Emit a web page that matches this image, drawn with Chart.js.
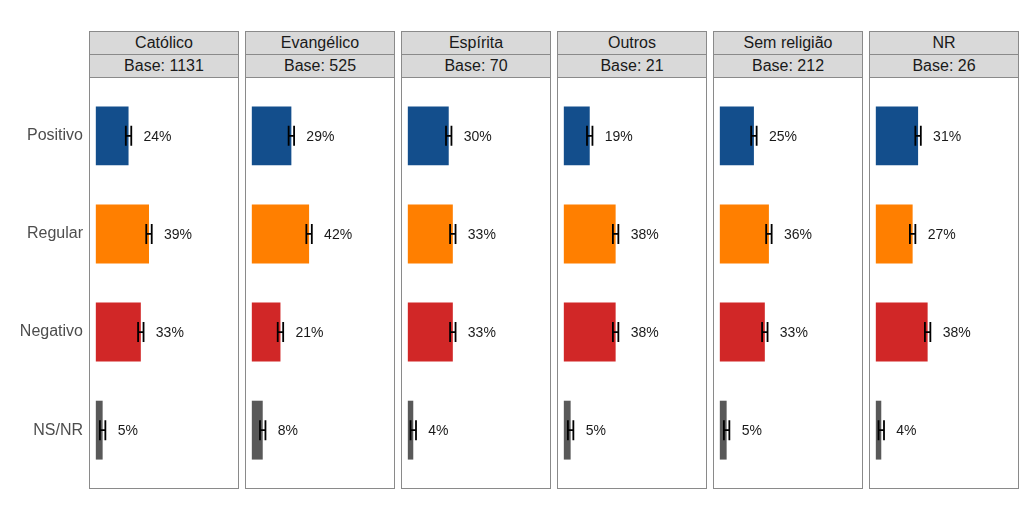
<!DOCTYPE html>
<html>
<head>
<meta charset="utf-8">
<script src="https://cdn.jsdelivr.net/npm/chart.js@4"></script>
<style>
  body { margin: 0; background: #fff; font-family: "Liberation Sans", Arial, sans-serif; }
  #wrap { position: relative; width: 1024px; height: 512px; overflow: hidden; }
  .strip { position: absolute; box-sizing: border-box; height: 24px; background: #d9d9d9;
           border: 1px solid #8a8a8a; color: #1a1a1a; font-size: 16px; text-align: center; line-height: 21px; }
  .frame { position: absolute; box-sizing: border-box; border: 1px solid #8a8a8a; pointer-events: none; }
  canvas { position: absolute; }
</style>
</head>
<body>
<div id="wrap"></div>
<script>
// dados
const religioes = ["Católico", "Evangélico", "Espírita", "Outros", "Sem religião", "NR"];
const bases = [1131, 525, 70, 21, 212, 26];
const avaliacoes = ["Positivo", "Regular", "Negativo", "NS/NR"];
const positivo = [24, 29, 30, 19, 25, 31];
const regular  = [39, 42, 33, 38, 36, 27];
const negativo = [33, 21, 33, 38, 33, 38];
const nsnr     = [5, 8, 4, 5, 5, 4];
const erro = 2; // meia largura da barra de erro (pontos percentuais)

const cores = ["#134e8c", "#ff7f00", "#d12727", "#595959"];
const series = [positivo, regular, negativo, nsnr];

const wrap = document.getElementById("wrap");
const top0 = 77, altura = 412, largura = 150, passo = 156, esq0 = 89;

// barras de erro e rótulos
const rotulos = {
    id: "rotulos",
    afterDatasetsDraw(chart) {
        const ctx = chart.ctx;
        const x = chart.scales.x;
        const meta = chart.getDatasetMeta(0);
        const vals = chart.data.datasets[0].data;
        ctx.save();
        meta.data.forEach((bar, i) => {
            const v = vals[i].x;
            const y = bar.y;
            const cap = bar.height * 0.17;
            const x1 = x.getPixelForValue(v - erro);
            const x2 = x.getPixelForValue(v + erro);
            ctx.strokeStyle = "#000";
            ctx.lineWidth = 1.8;
            ctx.beginPath();
            ctx.moveTo(x1, y); ctx.lineTo(x2, y);
            ctx.moveTo(x1, y - cap); ctx.lineTo(x1, y + cap);
            ctx.moveTo(x2, y - cap); ctx.lineTo(x2, y + cap);
            ctx.stroke();
            ctx.fillStyle = "#1a1a1a";
            ctx.font = "14px 'Liberation Sans', Arial";
            ctx.textAlign = "left";
            ctx.textBaseline = "middle";
            ctx.fillText(v + "%", x.getPixelForValue(v) + 15, y + 1);
        });
        ctx.restore();
    }
};

religioes.forEach((rel, p) => {
    const left = esq0 + p * passo;

    const s1 = document.createElement("div");
    s1.className = "strip";
    s1.style.left = left + "px"; s1.style.top = "31px"; s1.style.width = largura + "px";
    s1.textContent = rel;
    wrap.appendChild(s1);

    const s2 = document.createElement("div");
    s2.className = "strip";
    s2.style.left = left + "px"; s2.style.top = "54px"; s2.style.width = largura + "px";
    s2.textContent = "Base: " + bases[p];
    wrap.appendChild(s2);

    const primeiro = p === 0;
    const canvas = document.createElement("canvas");
    const cLeft = primeiro ? 0 : left;
    const cWidth = primeiro ? left + largura : largura;
    canvas.width = cWidth; canvas.height = altura;
    canvas.style.left = cLeft + "px"; canvas.style.top = top0 + "px";
    wrap.appendChild(canvas);

    const frame = document.createElement("div");
    frame.className = "frame";
    frame.style.left = left + "px"; frame.style.top = top0 + "px";
    frame.style.width = largura + "px"; frame.style.height = altura + "px";
    wrap.appendChild(frame);

    const dados = avaliacoes.map((a, i) => ({ x: series[i][p], y: i }));

    new Chart(canvas.getContext("2d"), {
        type: "bar",
        data: {
            datasets: [{
                data: dados,
                backgroundColor: cores,
                categoryPercentage: 1,
                barPercentage: 0.6,
                borderWidth: 0
            }]
        },
        options: {
            indexAxis: "y",
            responsive: false,
            animation: false,
            layout: { padding: 0 },
            scales: {
                x: { type: "linear", min: -5, max: 105, display: false, offset: false },
                y: {
                    type: "linear",
                    min: -0.6, max: 3.6,
                    offset: false,
                    bounds: "data",
                    reverse: true,
                    display: primeiro,
                    grid: { display: false, drawTicks: false, offset: false },
                    border: { display: false },
                    afterBuildTicks: (s) => { s.ticks = avaliacoes.map((a, i) => ({ value: i })); },
                    afterFit: (s) => {
                        if (primeiro) { s.width = left; s.paddingTop = 0; s.paddingBottom = 0; }
                    },
                    ticks: {
                        padding: 6,
                        color: "#4d4d4d",
                        font: { family: "'Liberation Sans', Arial", size: 16 },
                        callback: (v) => avaliacoes[v]
                    }
                }
            },
            plugins: { legend: { display: false }, tooltip: { enabled: false } }
        },
        plugins: [rotulos]
    });
});
</script>
</body>
</html>
